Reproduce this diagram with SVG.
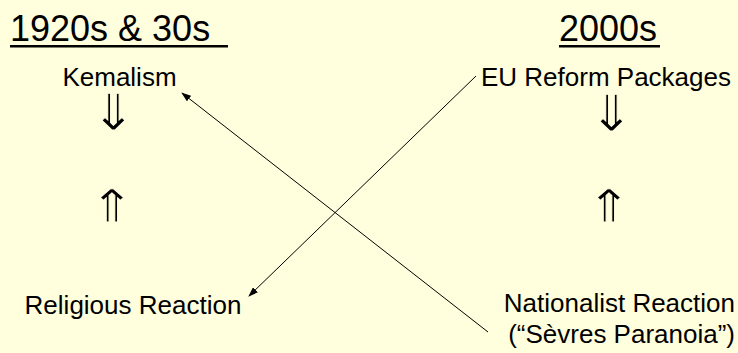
<svg xmlns="http://www.w3.org/2000/svg" width="738" height="353" viewBox="0 0 738 353">
<style>
text{font-family:"Liberation Sans",Arial,sans-serif;fill:#000}
.title{font-size:36px}
.lbl{font-size:26px}
.dbl{font-family:"DejaVu Sans Mono",monospace;font-size:62px;stroke:#FFFFDD;stroke-width:0.9px}
.conn{stroke:#000;stroke-width:1;fill:none;marker-end:url(#ah)}
</style>
<defs>
<marker id="ah" markerWidth="10" markerHeight="7" refX="9" refY="3.5" orient="auto" markerUnits="userSpaceOnUse">
<path d="M0,0 L10,3.5 L0,7 Z" fill="#000"/>
</marker>
</defs>
<rect width="738" height="353" fill="#FFFFDD"/>
<g id="title-left">
<text class="title" x="10" y="41">1920s &amp; 30s</text>
<rect x="10" y="45" width="218" height="2.5" fill="#000"/>
</g>
<g id="title-right">
<text class="title" x="559" y="41">2000s</text>
<rect x="559" y="45" width="101" height="2.5" fill="#000"/>
</g>
<g id="kemalism"><text class="lbl" x="119.5" y="86" text-anchor="middle">Kemalism</text></g>
<g id="eu-reform"><text class="lbl" x="606" y="86" text-anchor="middle">EU Reform Packages</text></g>
<g id="religious"><text class="lbl" x="133" y="314" text-anchor="middle">Religious Reaction</text></g>
<g id="nationalist">
<text class="lbl" x="735" y="312" text-anchor="end">Nationalist Reaction</text>
<text class="lbl" x="735" y="343" text-anchor="end">(“Sèvres Paranoia”)</text>
</g>
<g id="arrows-vertical">
<text class="dbl" transform="translate(113.5,130) scale(1.15,1.1)" text-anchor="middle">⇓</text>
<text class="dbl" transform="translate(112,222) scale(1.15,1)" text-anchor="middle">⇑</text>
<text class="dbl" transform="translate(611.5,131) scale(1.15,1.1)" text-anchor="middle">⇓</text>
<text class="dbl" transform="translate(609,222) scale(1.15,1)" text-anchor="middle">⇑</text>
</g>
<g id="connectors">
<line class="conn" x1="488" y1="332" x2="182" y2="93"/>
<line class="conn" x1="476" y1="76" x2="249" y2="296"/>
</g>
</svg>
